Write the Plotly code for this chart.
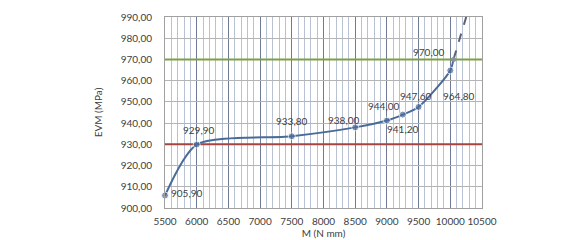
import plotly.graph_objects as go

# Data
m_values = [5500, 6000, 7500, 8500, 9000, 9250, 9500, 10000, 10050]
evm_values = [905.9, 929.9, 933.8, 938.0, 941.2, 944.0, 947.6, 964.8, 970.0]
marker_sizes = [7, 7, 7, 7, 7, 7, 7, 7, 0]
ext_m = [10050, 10150, 10250, 10290]
ext_evm = [970.0, 980.0, 990.0, 995.0]
limit_low = 930.0
limit_high = 970.0
label_texts = ["905,90", "929,90", "933,80", "938,00", "941,20", "944,00", "947,60", "964,80", "970,00"]
label_shifts = [(21, 2), (2, 15), (0, 15), (-12, 7), (16, -8), (-19, 9), (-3, 11), (8, -26), (-25, 7)]
x_ticks = [5500, 6000, 6500, 7000, 7500, 8000, 8500, 9000, 9500, 10000, 10500]
y_ticks = [900, 910, 920, 930, 940, 950, 960, 970, 980, 990]

font_family = "Lato, Liberation Sans, Arial, sans-serif"

fig = go.Figure()

fig.add_trace(go.Scatter(
    x=[5500, 10500], y=[limit_low, limit_low], mode="lines",
    line=dict(color="#a8433f", width=2), hoverinfo="skip", showlegend=False))
fig.add_trace(go.Scatter(
    x=[5500, 10500], y=[limit_high, limit_high], mode="lines",
    line=dict(color="#7f9f45", width=2), hoverinfo="skip", showlegend=False))

fig.add_trace(go.Scatter(
    x=ext_m, y=ext_evm, mode="lines",
    line=dict(color="#5c6078", width=2, dash="dash", shape="spline"),
    showlegend=False))

fig.add_trace(go.Scatter(
    x=m_values, y=evm_values, mode="lines+markers", cliponaxis=False,
    line=dict(color="#4a6b9a", width=2, shape="spline", smoothing=0.7),
    marker=dict(color="#4a6b9a", size=marker_sizes),
    showlegend=False))

# Intersection marker
fig.add_trace(go.Scatter(
    x=[m_values[-1]], y=[evm_values[-1]], mode="markers",
    marker=dict(color="#8a8ea4", size=5), showlegend=False))

for xv, yv, t, (dx, dy) in zip(m_values, evm_values, label_texts, label_shifts):
    fig.add_annotation(x=xv, y=yv, text=t, showarrow=False,
                       xshift=dx, yshift=dy,
                       font=dict(family=font_family, size=10, color="#404040"))

fig.update_layout(
    width=567, height=240,
    margin=dict(l=157, r=93, t=9, b=40, autoexpand=False),
    paper_bgcolor="white", plot_bgcolor="white",
    separators=",.",
    font=dict(family=font_family, size=10, color="#404040"),
    xaxis=dict(
        range=[5500, 10500], tickvals=x_ticks, tickformat="d", automargin=False,
        showgrid=True, gridcolor="#6e7a96", gridwidth=1,
        minor=dict(dtick=100, tick0=5500, showgrid=True, gridcolor="#b8c2d4", gridwidth=1),
        showline=True, linecolor="#a0a0a0", mirror=True, zeroline=False,
        ticks="", ticklabelstandoff=4,
        title=dict(text="M (N mm)", standoff=2, font=dict(size=10)),
    ),
    yaxis=dict(
        range=[900, 990], tickvals=y_ticks, tickformat=".2f", automargin=False,
        showgrid=True, gridcolor="#b4b4b4", gridwidth=1,
        showline=True, linecolor="#a0a0a0", mirror=True, zeroline=False,
        ticks="", ticklabelstandoff=10,
        title=dict(text="EVM (MPa)", standoff=16, font=dict(size=10)),
    ),
)

fig.write_html("out.html")
